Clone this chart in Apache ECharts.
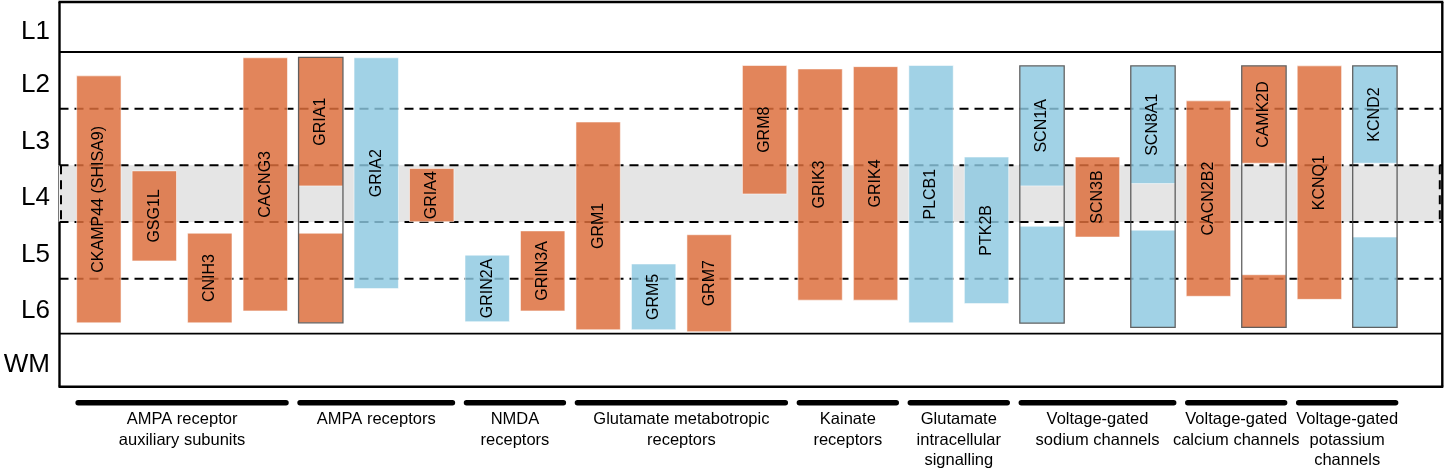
<!DOCTYPE html>
<html><head><meta charset="utf-8">
<script src="https://cdn.jsdelivr.net/npm/echarts/dist/echarts.min.js"></script>
<style>html,body{margin:0;padding:0;background:#fff}#c{width:1445px;height:472px}</style>
</head><body><div id="c"></div>
<script>
// ---- data ----
const layerNames = ['L1','L2','L3','L4','L5','L6','WM'];
const layerBounds = [0, 13.0, 27.74, 42.45, 57.19, 71.93, 86.22, 100]; // depth, % of panel
const genes = ['CKAMP44 (SHISA9)','GSG1L','CNIH3','CACNG3','GRIA1','GRIA2','GRIA4','GRIN2A','GRIN3A',
  'GRM1','GRM5','GRM7','GRM8','GRIK3','GRIK4','PLCB1','PTK2B','SCN1A','SCN3B','SCN8A1',
  'CACN2B2','CAMK2D','KCNQ1','KCND2'];
const kinds = ['A','A','A','A','A','B','A','B','A','A','B','A','A','A','A','B','B','B','A','B','A','A','A','B'];
const barTop    = [19.2, 43.9, 60.1, 14.5, 14.4, 14.5, 43.3, 65.8, 59.5, 31.2, 68.1, 60.5, 16.5, 17.4, 16.8, 16.5, 40.3, 16.6, 40.3, 16.6, 25.7, 16.6, 16.6, 16.6];
const barBottom = [83.4, 67.3, 83.4, 80.3, 83.4, 74.5, 57.1, 83.1, 80.3, 85.2, 85.2, 85.7, 49.9, 77.5, 77.5, 83.4, 78.4, 83.5, 61.1, 84.6, 76.5, 84.6, 77.3, 84.6];
const gapTop    = [null,null,null,null,47.8,null,null,null,null,null,null,null,null,null,null,null,null,47.8,null,47.2,null,41.9,null,41.9];
const gapBottom = [null,null,null,null,60.1,null,null,null,null,null,null,null,null,null,null,null,null,58.3,null,59.3,null,70.9,null,61.1];
const groupNames = ['AMPA receptor\nauxiliary subunits','AMPA receptors','NMDA\nreceptors','Glutamate metabotropic\nreceptors',
  'Kainate\nreceptors','Glutamate\nintracellular\nsignalling','Voltage-gated\nsodium channels','Voltage-gated\ncalcium channels',
  'Voltage-gated\npotassium\nchannels'];
const groupSizes = [4,3,2,4,2,2,3,2,2];

// ---- derived ----
const groupRanges = [];
let acc = 0;
groupSizes.forEach(s => { groupRanges.push([acc, acc + s - 1]); acc += s; });

const FONT = '"Liberation Sans", Arial, sans-serif';
const ORANGE = 'rgba(221,110,60,0.84)';
const BLUE = 'rgba(140,200,224,0.82)';
const BAR_W = 0.8;

const chart = echarts.init(document.getElementById('c'), null, {renderer: 'canvas'});

function frameItem(params, api) {
  const cs = params.coordSys;
  const L = cs.x, R = cs.x + cs.width, T = cs.y, B = cs.y + cs.height;
  const yb = v => api.coord([0, v])[1];
  const bandT = yb(layerBounds[3]), bandB = yb(layerBounds[4]);
  const ch = [];
  ch.push({type: 'rect', shape: {x: L, y: bandT, width: R - L, height: bandB - bandT}, style: {fill: '#e5e5e5'}, z2: 0});
  ch.push({type: 'line', shape: {x1: L + 1.5, y1: bandT, x2: L + 1.5, y2: bandB}, style: {stroke: '#000', lineWidth: 2, lineDash: [9, 6]}, z2: 5});
  ch.push({type: 'line', shape: {x1: R - 2.5, y1: bandT, x2: R - 2.5, y2: bandB}, style: {stroke: '#000', lineWidth: 2, lineDash: [9, 6]}, z2: 5});
  for (let k = 1; k < layerBounds.length - 1; k++) {
    const y = yb(layerBounds[k]);
    const solid = (k === 1 || k === layerBounds.length - 2);
    ch.push({type: 'line', shape: {x1: L, y1: y, x2: R, y2: y},
      style: solid ? {stroke: '#000', lineWidth: 1.8} : {stroke: '#000', lineWidth: 2, lineDash: [9, 6]}, z2: 6});
  }
  const fw = 2.4;
  ch.push({type: 'line', shape: {x1: L - 1, y1: T, x2: R + 1, y2: T}, style: {stroke: '#000', lineWidth: fw}, z2: 7});
  ch.push({type: 'line', shape: {x1: L - 1, y1: B, x2: R + 1, y2: B}, style: {stroke: '#000', lineWidth: fw}, z2: 7});
  ch.push({type: 'line', shape: {x1: L, y1: T, x2: L, y2: bandT}, style: {stroke: '#000', lineWidth: fw}, z2: 7});
  ch.push({type: 'line', shape: {x1: L, y1: bandB, x2: L, y2: B}, style: {stroke: '#000', lineWidth: fw}, z2: 7});
  ch.push({type: 'line', shape: {x1: L - 1, y1: bandT, x2: L - 1, y2: bandB}, style: {stroke: '#777', lineWidth: 1}, z2: 7});
  ch.push({type: 'line', shape: {x1: R, y1: T, x2: R, y2: B}, style: {stroke: '#000', lineWidth: fw}, z2: 7});
  for (let k = 0; k < layerNames.length; k++) {
    const yc = (yb(layerBounds[k]) + yb(layerBounds[k + 1])) / 2 + 4.5;
    ch.push({type: 'text', x: 50, y: yc, style: {text: layerNames[k], fill: '#000', font: '26px ' + FONT, align: 'right', verticalAlign: 'middle'}, z2: 8});
  }
  return {type: 'group', children: ch};
}

function barItem(params, api) {
  const i = params.dataIndex;
  const w = api.size([BAR_W, 0])[0];
  const xc = api.coord([i, 0])[0];
  const x = xc - w / 2;
  const yv = v => api.coord([i, v])[1];
  const fill = kinds[i] === 'A' ? ORANGE : BLUE;
  const split = gapTop[i] != null;
  const segs = split ? [[barTop[i], gapTop[i]], [gapBottom[i], barBottom[i]]] : [[barTop[i], barBottom[i]]];
  const ch = segs.map(s => ({type: 'rect', shape: {x: x, y: yv(s[0]), width: w, height: yv(s[1]) - yv(s[0])},
    style: {fill: fill, stroke: 'rgba(255,255,255,0.55)', lineWidth: 1}}));
  if (split) {
    ch.push({type: 'rect', shape: {x: x, y: yv(barTop[i]), width: w, height: yv(barBottom[i]) - yv(barTop[i])},
      style: {fill: 'none', stroke: 'rgba(70,70,70,0.85)', lineWidth: 1.3}});
  }
  const ls = segs[0];
  const yc = (yv(ls[0]) + yv(ls[1])) / 2;
  ch.push({type: 'text', x: xc, y: yc, rotation: Math.PI / 2,
    style: {text: genes[i], fill: '#000', font: '16px ' + FONT, align: 'center', verticalAlign: 'middle'}});
  return {type: 'group', children: ch};
}

function groupItem(params, api) {
  const k = params.dataIndex;
  const r = groupRanges[k];
  const w = api.size([BAR_W, 0])[0];
  const x1 = api.coord([r[0], 0])[0] - w / 2 - 1;
  const x2 = api.coord([r[1], 0])[0] + w / 2 + 1;
  const yBottom = params.coordSys.y + params.coordSys.height;
  const yl = yBottom + 16;
  return {type: 'group', children: [
    {type: 'line', shape: {x1: x1 + 2.5, y1: yl, x2: x2 - 2.5, y2: yl}, style: {stroke: '#000', lineWidth: 5.5, lineCap: 'round'}},
    {type: 'text', x: (x1 + x2) / 2, y: yBottom + 23,
      style: {text: groupNames[k], fill: '#000', font: '16.5px ' + FONT, align: 'center', verticalAlign: 'top', lineHeight: 20.5}}
  ]};
}

chart.setOption({
  animation: false,
  backgroundColor: '#fff',
  grid: {left: 59.5, right: 2.7, top: 2, bottom: 85.3},
  xAxis: {type: 'value', min: -0.709, max: 24.215, show: false},
  yAxis: {type: 'value', min: 0, max: 100, inverse: true, show: false},
  series: [
    {type: 'custom', name: 'frame', z: 1, clip: false, silent: true, renderItem: frameItem, data: [[0, 0]]},
    {type: 'custom', name: 'genes', z: 3, clip: false, silent: true, renderItem: barItem,
      data: genes.map((g, i) => [i, barTop[i], barBottom[i]])},
    {type: 'custom', name: 'groups', z: 4, clip: false, silent: true, renderItem: groupItem,
      data: groupRanges.map(r => [(r[0] + r[1]) / 2, 0])}
  ]
});
</script>
</body></html>
